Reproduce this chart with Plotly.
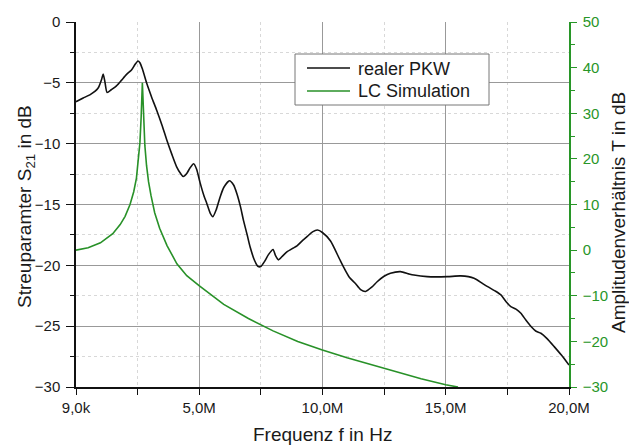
import plotly.graph_objects as go

# ---- data (frequency in MHz) ----
pkw_f = [0.009, 0.3, 0.6, 0.9, 1.05, 1.11, 1.18, 1.27, 1.45, 1.65, 1.85, 2.06, 2.26, 2.4, 2.52,
         2.6, 2.7, 2.87, 3.08, 3.28, 3.5, 3.69, 3.9, 4.09, 4.25, 4.36, 4.5, 4.63, 4.78, 4.9,
         5.04, 5.2, 5.31, 5.45, 5.56, 5.7, 5.85, 6.0, 6.23, 6.4, 6.53, 6.68, 6.8, 6.95, 7.07,
         7.25, 7.4, 7.5, 7.65, 7.82, 8.0, 8.1, 8.22, 8.4, 8.56, 8.8, 8.97, 9.2, 9.4, 9.6,
         9.8, 10.0, 10.33, 10.7, 10.9, 11.1, 11.34, 11.55, 11.75, 12.0, 12.22, 12.5, 12.76, 13.17, 13.5,
         13.71, 14.25, 15.07, 15.61, 16.15, 16.5, 16.7, 17.0, 17.24, 17.45, 17.64, 17.85, 18.05, 18.25, 18.46,
         18.65, 18.86, 19.1, 19.4, 19.7, 20.0]
pkw_s21 = [-6.55, -6.25, -5.95, -5.45, -4.7, -4.27, -4.9, -5.8, -5.55, -5.25, -4.8, -4.3, -3.95, -3.5, -3.2,
           -3.35, -3.85, -5.0, -6.2, -7.25, -8.5, -9.7, -10.9, -11.9, -12.45, -12.7, -12.45, -12.0, -11.65, -12.1,
           -13.2, -14.3, -14.9, -15.7, -16.0, -15.4, -14.4, -13.6, -13.05, -13.4, -14.1, -15.2, -16.3, -17.5, -18.5,
           -19.6, -20.1, -20.1, -19.7, -19.1, -18.7, -19.2, -19.55, -19.2, -18.9, -18.6, -18.4, -17.95, -17.6, -17.25,
           -17.1, -17.3, -18.0, -19.5, -20.3, -21.0, -21.5, -22.0, -22.15, -21.8, -21.35, -20.9, -20.65, -20.52, -20.7,
           -20.8, -20.93, -20.93, -20.87, -21.06, -21.5, -21.75, -22.1, -22.43, -23.0, -23.39, -23.6, -23.94, -24.5, -25.03,
           -25.4, -25.58, -26.0, -26.68, -27.4, -28.2]

lc_f = [0.009, 0.5, 1.0, 1.5, 1.8, 2.0, 2.2, 2.35, 2.46, 2.55, 2.6, 2.65, 2.68, 2.70, 2.72,
        2.75, 2.8, 2.87, 2.95, 3.05, 3.2, 3.4, 3.7, 4.1, 4.5, 5.0, 6.0, 7.0, 7.5, 8.0,
        9.0, 10.0, 11.0, 12.0, 12.5, 13.0, 14.0, 15.0, 15.5]
lc_t = [0.0, 0.5, 1.6, 3.6, 5.6, 7.4, 10.0, 12.8, 15.8, 20.0, 23.5, 29.0, 34.5, 36.7, 34.0,
        28.5, 23.0, 18.5, 15.0, 12.0, 8.2, 4.8, 1.0, -3.0, -5.6, -7.8, -11.9, -15.0, -16.4, -17.7,
        -20.0, -21.9, -23.6, -25.1, -25.8, -26.7, -28.2, -29.5, -30.0]

series_names = ["realer PKW", "LC Simulation"]

x_tickvals = [0.009, 5, 10, 15, 20]
x_ticktext = ["9,0k", "5,0M", "10,0M", "15,0M", "20,0M"]
x_minor = [2.5, 7.5, 12.5, 17.5]
y_ticks = [-30, -25, -20, -15, -10, -5, 0]
y_grid = [-25, -20, -15, -10, -5]
y_minor = [-27.5, -22.5, -17.5, -12.5, -7.5, -2.5]
y2_ticks = [-30, -20, -10, 0, 10, 20, 30, 40, 50]
y2_minor = [-25, -15, -5, 5, 15, 25, 35, 45]

BLACK = "#111111"
GREEN = "rgb(40,145,40)"
AXGREEN = "rgb(40,150,40)"
FONT = "Liberation Sans, Arial, sans-serif"
TXT = "#1a1a1a"

W, H = 629, 446
PL, PR, PT, PB = 76, 569, 22, 387
PW, PH = PR - PL, PB - PT


def px(xp):
    return (xp - PL) / PW


def py(yp):
    return 1 - (yp - PT) / PH


fig = go.Figure()
fig.add_trace(go.Scatter(x=[], y=[], yaxis="y3", showlegend=False, hoverinfo="skip"))
fig.add_trace(go.Scatter(x=pkw_f, y=pkw_s21, mode="lines", name=series_names[0], showlegend=False,
                         line=dict(color=BLACK, width=1.6, shape="spline", smoothing=0.6)))
fig.add_trace(go.Scatter(x=lc_f, y=lc_t, mode="lines", name=series_names[1], yaxis="y2", showlegend=False,
                         line=dict(color=GREEN, width=1.6)))

# legend box (layout shapes + text)
shapes = [
    dict(type="rect", xref="paper", yref="paper", x0=px(295), x1=px(489), y0=py(105), y1=py(54),
         line=dict(color="#777", width=1), fillcolor="white", layer="above"),
    dict(type="line", xref="paper", yref="paper", x0=px(307), x1=px(350), y0=py(68), y1=py(68),
         line=dict(color=BLACK, width=1.6), layer="above"),
    dict(type="line", xref="paper", yref="paper", x0=px(307), x1=px(350), y0=py(91), y1=py(91),
         line=dict(color=GREEN, width=1.6), layer="above"),
]

annotations = [
    dict(text=series_names[0], xref="paper", yref="paper", x=px(356), y=py(68.5),
         xanchor="left", yanchor="middle", showarrow=False, font=dict(size=18, color=TXT)),
    dict(text=series_names[1], xref="paper", yref="paper", x=px(356), y=py(91),
         xanchor="left", yanchor="middle", showarrow=False, font=dict(size=18, color=TXT)),
    dict(text="Frequenz f in Hz", xref="paper", yref="paper", x=0.5, y=py(434),
         xanchor="center", yanchor="middle", showarrow=False, font=dict(size=19, color=TXT)),
    dict(text="Streuparamter S<sub>21</sub> in dB", xref="paper", yref="paper",
         x=px(26), y=py(207), textangle=-90,
         xanchor="center", yanchor="middle", showarrow=False, font=dict(size=19, color=TXT)),
    dict(text="Amplitudenverhältnis T in dB", xref="paper", yref="paper",
         x=px(619), y=py(213), textangle=-90,
         xanchor="center", yanchor="middle", showarrow=False, font=dict(size=19, color=TXT)),
]

fig.update_layout(
    width=W, height=H,
    margin=dict(l=PL, r=W - PR, t=PT, b=H - PB, autoexpand=False),
    paper_bgcolor="white", plot_bgcolor="white",
    font=dict(family=FONT, size=15, color=TXT),
    showlegend=False,
    xaxis=dict(range=[0.009, 20], tickmode="array", tickvals=x_tickvals, ticktext=x_ticktext,
               automargin=False,
               showline=True, linecolor="#111", linewidth=1.5, mirror=False,
               ticks="outside", ticklen=6, tickcolor="#111", tickwidth=1.2,
               showgrid=True, gridcolor="#999", gridwidth=1, zeroline=False,
               tickfont=dict(size=15, color=TXT),
               minor=dict(tickmode="array", tickvals=x_minor, ticks="outside",
                          ticklen=6, tickcolor="#111", showgrid=True, gridcolor="#d8d8d8", griddash="dot")),
    yaxis=dict(range=[-30, 0], tickmode="array", tickvals=y_ticks, automargin=False,
               showline=True, linecolor="#111", linewidth=1.5,
               ticks="outside", ticklen=8, tickcolor="#111", tickwidth=1.2, ticklabelstandoff=3,
               showgrid=False, zeroline=False,
               tickfont=dict(size=15, color=TXT),
               minor=dict(tickmode="array", tickvals=y_minor,
                          ticks="outside", ticklen=4, tickcolor="#111",
                          showgrid=True, gridcolor="#d8d8d8", griddash="dot")),
    yaxis3=dict(range=[-30, 0], overlaying="y", tickmode="array", tickvals=y_grid, automargin=False,
                showticklabels=False, ticks="", showline=False, zeroline=False,
                showgrid=True, gridcolor="#999", gridwidth=1),
    yaxis2=dict(range=[-30, 50], overlaying="y", side="right", tickmode="array",
                tickvals=y2_ticks, automargin=False,
                showline=True, linecolor=AXGREEN, linewidth=1.5,
                ticks="outside", ticklen=6, tickcolor=AXGREEN, tickwidth=1.2, ticklabelstandoff=3,
                showgrid=False, zeroline=False,
                tickfont=dict(size=15, color=AXGREEN),
                minor=dict(tickmode="array", tickvals=y2_minor,
                           ticks="outside", ticklen=4, tickcolor=AXGREEN, showgrid=False)),
    shapes=shapes,
    annotations=annotations,
)

fig.write_html("out.html", config={"displayModeBar": False},
               post_script="document.body.style.margin='0';document.body.style.overflow='hidden';")
